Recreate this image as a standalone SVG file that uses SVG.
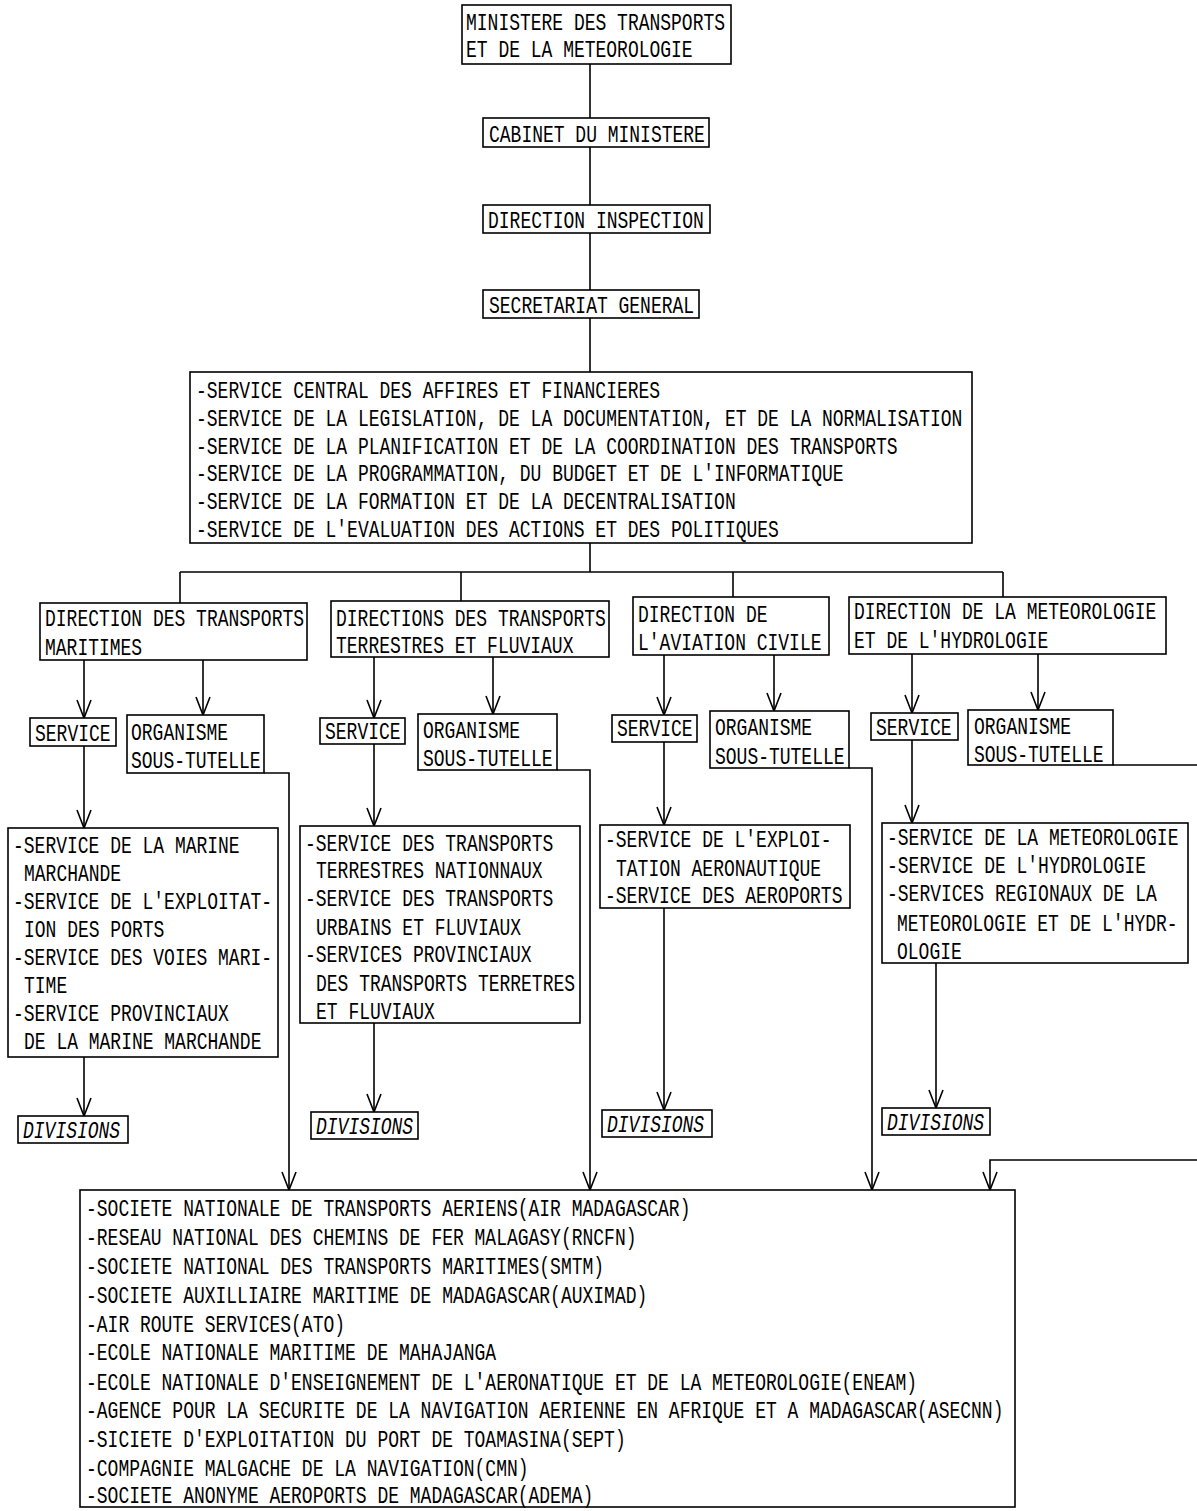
<svg xmlns="http://www.w3.org/2000/svg" width="1197" height="1511" viewBox="0 0 1197 1511">
<style>
  .box { fill: #fff; stroke: #000; stroke-width: 1.6; }
  .t { font-family: "Liberation Mono", "DejaVu Sans Mono", monospace; font-size: 18px; fill: #000; }
  .it { font-style: italic; }
  .c { fill: none; stroke: #000; stroke-width: 1.6; }
</style>
<defs>
  <marker id="arr" viewBox="-20 -10 22 20" refX="0" refY="0" markerWidth="22" markerHeight="20" markerUnits="userSpaceOnUse" orient="auto" overflow="visible">
    <path d="M-18,-7 L0,0 L-18,7" fill="none" stroke="#000" stroke-width="1.6"/>
  </marker>
</defs>
<rect width="1197" height="1511" fill="#fff"/>

<g id="connectors">
  <line class="c" x1="590" y1="64" x2="590" y2="118"/>
  <line class="c" x1="590" y1="147" x2="590" y2="205"/>
  <line class="c" x1="590" y1="233" x2="590" y2="290"/>
  <line class="c" x1="590" y1="318" x2="590" y2="372"/>
  <line class="c" x1="590" y1="543" x2="590" y2="572"/>
  <line class="c" x1="180" y1="572" x2="1003" y2="572"/>
  <line class="c" x1="180" y1="572" x2="180" y2="603"/>
  <line class="c" x1="461" y1="572" x2="461" y2="601"/>
  <line class="c" x1="733" y1="572" x2="733" y2="597"/>
  <line class="c" x1="1003" y1="572" x2="1003" y2="597"/>
  <line class="c" x1="84" y1="660" x2="84" y2="718" marker-end="url(#arr)"/>
  <line class="c" x1="203" y1="660" x2="203" y2="715" marker-end="url(#arr)"/>
  <line class="c" x1="374" y1="657" x2="374" y2="718" marker-end="url(#arr)"/>
  <line class="c" x1="493" y1="657" x2="493" y2="714" marker-end="url(#arr)"/>
  <line class="c" x1="664" y1="655" x2="664" y2="715" marker-end="url(#arr)"/>
  <line class="c" x1="774" y1="655" x2="774" y2="711" marker-end="url(#arr)"/>
  <line class="c" x1="912" y1="654" x2="912" y2="713" marker-end="url(#arr)"/>
  <line class="c" x1="1038" y1="654" x2="1038" y2="710" marker-end="url(#arr)"/>
  <line class="c" x1="84" y1="746" x2="84" y2="828" marker-end="url(#arr)"/>
  <line class="c" x1="374" y1="744" x2="374" y2="826" marker-end="url(#arr)"/>
  <line class="c" x1="664" y1="742" x2="664" y2="825" marker-end="url(#arr)"/>
  <line class="c" x1="912" y1="740" x2="912" y2="823" marker-end="url(#arr)"/>
  <line class="c" x1="84" y1="1057" x2="84" y2="1116" marker-end="url(#arr)"/>
  <line class="c" x1="374" y1="1023" x2="374" y2="1112" marker-end="url(#arr)"/>
  <line class="c" x1="664" y1="908" x2="664" y2="1110" marker-end="url(#arr)"/>
  <line class="c" x1="936" y1="963" x2="936" y2="1108" marker-end="url(#arr)"/>
  <path class="c" d="M264,773 H289 V1190" marker-end="url(#arr)"/>
  <path class="c" d="M557,770 H590 V1190" marker-end="url(#arr)"/>
  <path class="c" d="M849,768 H872 V1190" marker-end="url(#arr)"/>
  <path class="c" d="M1113,765 H1197"/>
  <path class="c" d="M1197,1160 H990 V1190" marker-end="url(#arr)"/>
</g>

<g id="ministere">
  <rect class="box" x="462" y="5" width="269" height="59"/>
  <text class="t" transform="translate(466,30) scale(1,1.3)">MINISTERE DES TRANSPORTS</text>
  <text class="t" transform="translate(466,57) scale(1,1.3)">ET DE LA METEOROLOGIE</text>
</g>
<g id="cabinet">
  <rect class="box" x="483" y="118" width="226" height="29"/>
  <text class="t" transform="translate(489,142) scale(1,1.3)">CABINET DU MINISTERE</text>
</g>
<g id="inspection">
  <rect class="box" x="483" y="205" width="227" height="28"/>
  <text class="t" transform="translate(488,228) scale(1,1.3)">DIRECTION INSPECTION</text>
</g>
<g id="secretariat">
  <rect class="box" x="483" y="290" width="216" height="28"/>
  <text class="t" transform="translate(489,313) scale(1,1.3)">SECRETARIAT GENERAL</text>
</g>

<g id="services-centraux">
  <rect class="box" x="190" y="372" width="782" height="171"/>
  <text class="t" transform="translate(196,398) scale(1,1.3)">-SERVICE CENTRAL DES AFFIRES ET FINANCIERES</text>
  <text class="t" transform="translate(196,426) scale(1,1.3)">-SERVICE DE LA LEGISLATION, DE LA DOCUMENTATION, ET DE LA NORMALISATION</text>
  <text class="t" transform="translate(196,454) scale(1,1.3)">-SERVICE DE LA PLANIFICATION ET DE LA COORDINATION DES TRANSPORTS</text>
  <text class="t" transform="translate(196,481) scale(1,1.3)">-SERVICE DE LA PROGRAMMATION, DU BUDGET ET DE L'INFORMATIQUE</text>
  <text class="t" transform="translate(196,509) scale(1,1.3)">-SERVICE DE LA FORMATION ET DE LA DECENTRALISATION</text>
  <text class="t" transform="translate(196,537) scale(1,1.3)">-SERVICE DE L'EVALUATION DES ACTIONS ET DES POLITIQUES</text>
</g>

<g id="dir-maritimes">
  <rect class="box" x="40" y="603" width="267" height="57"/>
  <text class="t" transform="translate(45,626) scale(1,1.3)">DIRECTION DES TRANSPORTS</text>
  <text class="t" transform="translate(45,655) scale(1,1.3)">MARITIMES</text>
</g>
<g id="dir-terrestres">
  <rect class="box" x="331" y="601" width="278" height="56"/>
  <text class="t" transform="translate(336,626) scale(1,1.3)">DIRECTIONS DES TRANSPORTS</text>
  <text class="t" transform="translate(336,653) scale(1,1.3)">TERRESTRES ET FLUVIAUX</text>
</g>
<g id="dir-aviation">
  <rect class="box" x="633" y="597" width="196" height="58"/>
  <text class="t" transform="translate(638,622) scale(1,1.3)">DIRECTION DE</text>
  <text class="t" transform="translate(638,650) scale(1,1.3)">L'AVIATION CIVILE</text>
</g>
<g id="dir-meteo">
  <rect class="box" x="849" y="597" width="317" height="57"/>
  <text class="t" transform="translate(854,619) scale(1,1.3)">DIRECTION DE LA METEOROLOGIE</text>
  <text class="t" transform="translate(854,648) scale(1,1.3)">ET DE L'HYDROLOGIE</text>
</g>

<g id="service-1">
  <rect class="box" x="30" y="718" width="86" height="28"/>
  <text class="t" transform="translate(35,741) scale(1,1.3)">SERVICE</text>
</g>
<g id="organisme-1">
  <rect class="box" x="127" y="715" width="137" height="58"/>
  <text class="t" transform="translate(131,740) scale(1,1.3)">ORGANISME</text>
  <text class="t" transform="translate(131,768) scale(1,1.3)">SOUS-TUTELLE</text>
</g>
<g id="service-2">
  <rect class="box" x="320" y="718" width="85" height="26"/>
  <text class="t" transform="translate(325,739) scale(1,1.3)">SERVICE</text>
</g>
<g id="organisme-2">
  <rect class="box" x="418" y="714" width="139" height="56"/>
  <text class="t" transform="translate(423,738) scale(1,1.3)">ORGANISME</text>
  <text class="t" transform="translate(423,766) scale(1,1.3)">SOUS-TUTELLE</text>
</g>
<g id="service-3">
  <rect class="box" x="612" y="715" width="85" height="27"/>
  <text class="t" transform="translate(617,736) scale(1,1.3)">SERVICE</text>
</g>
<g id="organisme-3">
  <rect class="box" x="710" y="711" width="139" height="57"/>
  <text class="t" transform="translate(715,735) scale(1,1.3)">ORGANISME</text>
  <text class="t" transform="translate(715,764) scale(1,1.3)">SOUS-TUTELLE</text>
</g>
<g id="service-4">
  <rect class="box" x="871" y="713" width="87" height="27"/>
  <text class="t" transform="translate(876,735) scale(1,1.3)">SERVICE</text>
</g>
<g id="organisme-4">
  <rect class="box" x="968" y="710" width="145" height="55"/>
  <text class="t" transform="translate(974,734) scale(1,1.3)">ORGANISME</text>
  <text class="t" transform="translate(974,762) scale(1,1.3)">SOUS-TUTELLE</text>
</g>

<g id="list-maritimes">
  <rect class="box" x="8" y="828" width="270" height="229"/>
  <text class="t" transform="translate(13,853) scale(1,1.3)">-SERVICE DE LA MARINE</text>
  <text class="t" transform="translate(24,881) scale(1,1.3)">MARCHANDE</text>
  <text class="t" transform="translate(13,909) scale(1,1.3)">-SERVICE DE L'EXPLOITAT-</text>
  <text class="t" transform="translate(24,937) scale(1,1.3)">ION DES PORTS</text>
  <text class="t" transform="translate(13,965) scale(1,1.3)">-SERVICE DES VOIES MARI-</text>
  <text class="t" transform="translate(24,993) scale(1,1.3)">TIME</text>
  <text class="t" transform="translate(13,1021) scale(1,1.3)">-SERVICE PROVINCIAUX</text>
  <text class="t" transform="translate(24,1049) scale(1,1.3)">DE LA MARINE MARCHANDE</text>
</g>
<g id="list-terrestres">
  <rect class="box" x="300" y="826" width="280" height="197"/>
  <text class="t" transform="translate(305,851) scale(1,1.3)">-SERVICE DES TRANSPORTS</text>
  <text class="t" transform="translate(316,878) scale(1,1.3)">TERRESTRES NATIONNAUX</text>
  <text class="t" transform="translate(305,906) scale(1,1.3)">-SERVICE DES TRANSPORTS</text>
  <text class="t" transform="translate(316,935) scale(1,1.3)">URBAINS ET FLUVIAUX</text>
  <text class="t" transform="translate(305,962) scale(1,1.3)">-SERVICES PROVINCIAUX</text>
  <text class="t" transform="translate(316,991) scale(1,1.3)">DES TRANSPORTS TERRETRES</text>
  <text class="t" transform="translate(316,1019) scale(1,1.3)">ET FLUVIAUX</text>
</g>
<g id="list-aviation">
  <rect class="box" x="600" y="825" width="250" height="83"/>
  <text class="t" transform="translate(605,847) scale(1,1.3)">-SERVICE DE L'EXPLOI-</text>
  <text class="t" transform="translate(616,876) scale(1,1.3)">TATION AERONAUTIQUE</text>
  <text class="t" transform="translate(605,903) scale(1,1.3)">-SERVICE DES AEROPORTS</text>
</g>
<g id="list-meteo">
  <rect class="box" x="882" y="823" width="306" height="140"/>
  <text class="t" transform="translate(887,845) scale(1,1.3)">-SERVICE DE LA METEOROLOGIE</text>
  <text class="t" transform="translate(887,873) scale(1,1.3)">-SERVICE DE L'HYDROLOGIE</text>
  <text class="t" transform="translate(887,901) scale(1,1.3)">-SERVICES REGIONAUX DE LA</text>
  <text class="t" transform="translate(897,931) scale(1,1.3)">METEOROLOGIE ET DE L'HYDR-</text>
  <text class="t" transform="translate(897,959) scale(1,1.3)">OLOGIE</text>
</g>

<g id="divisions-1">
  <rect class="box" x="18" y="1116" width="110" height="27"/>
  <text class="t it" transform="translate(23,1138) scale(1,1.3)">DIVISIONS</text>
</g>
<g id="divisions-2">
  <rect class="box" x="311" y="1112" width="107" height="27"/>
  <text class="t it" transform="translate(316,1134) scale(1,1.3)">DIVISIONS</text>
</g>
<g id="divisions-3">
  <rect class="box" x="602" y="1110" width="110" height="27"/>
  <text class="t it" transform="translate(607,1132) scale(1,1.3)">DIVISIONS</text>
</g>
<g id="divisions-4">
  <rect class="box" x="882" y="1108" width="108" height="27"/>
  <text class="t it" transform="translate(887,1130) scale(1,1.3)">DIVISIONS</text>
</g>

<g id="organismes-list">
  <rect class="box" x="80" y="1190" width="935" height="317"/>
  <text class="t" transform="translate(86,1216) scale(1,1.3)">-SOCIETE NATIONALE DE TRANSPORTS AERIENS(AIR MADAGASCAR)</text>
  <text class="t" transform="translate(86,1245) scale(1,1.3)">-RESEAU NATIONAL DES CHEMINS DE FER MALAGASY(RNCFN)</text>
  <text class="t" transform="translate(86,1274) scale(1,1.3)">-SOCIETE NATIONAL DES TRANSPORTS MARITIMES(SMTM)</text>
  <text class="t" transform="translate(86,1303) scale(1,1.3)">-SOCIETE AUXILLIAIRE MARITIME DE MADAGASCAR(AUXIMAD)</text>
  <text class="t" transform="translate(86,1332) scale(1,1.3)">-AIR ROUTE SERVICES(ATO)</text>
  <text class="t" transform="translate(86,1360) scale(1,1.3)">-ECOLE NATIONALE MARITIME DE MAHAJANGA</text>
  <text class="t" transform="translate(86,1390) scale(1,1.3)">-ECOLE NATIONALE D'ENSEIGNEMENT DE L'AERONATIQUE ET DE LA METEOROLOGIE(ENEAM)</text>
  <text class="t" transform="translate(86,1418) scale(1,1.3)">-AGENCE POUR LA SECURITE DE LA NAVIGATION AERIENNE EN AFRIQUE ET A MADAGASCAR(ASECNN)</text>
  <text class="t" transform="translate(86,1447) scale(1,1.3)">-SICIETE D'EXPLOITATION DU PORT DE TOAMASINA(SEPT)</text>
  <text class="t" transform="translate(86,1476) scale(1,1.3)">-COMPAGNIE MALGACHE DE LA NAVIGATION(CMN)</text>
  <text class="t" transform="translate(86,1503) scale(1,1.3)">-SOCIETE ANONYME AEROPORTS DE MADAGASCAR(ADEMA)</text>
</g>
</svg>
